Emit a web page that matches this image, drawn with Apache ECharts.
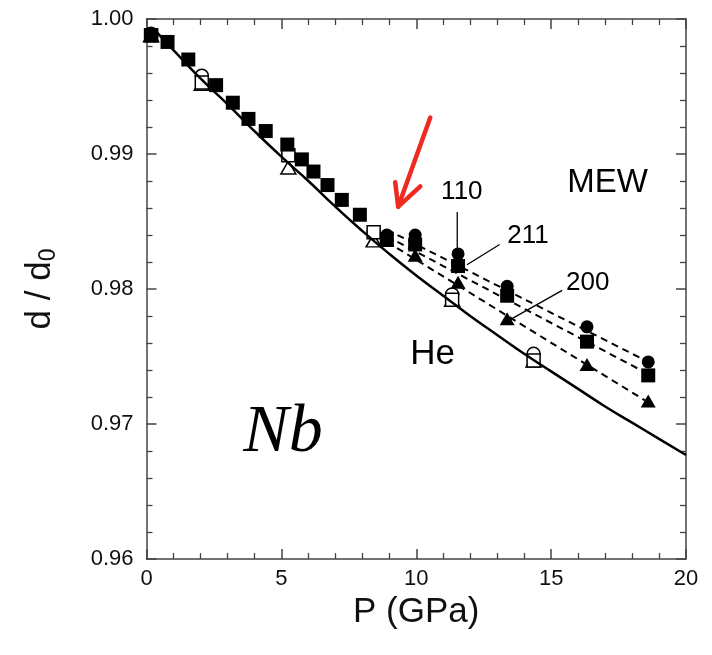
<!DOCTYPE html>
<html>
<head>
<meta charset="utf-8">
<script src="https://cdn.jsdelivr.net/npm/echarts/dist/echarts.min.js"></script>
<style>
  html, body { margin: 0; padding: 0; background: #fff; }
  #chart { width: 712px; height: 655px; }
</style>
</head>
<body>
<div id="chart"></div>
<script>
// Axis ticks
const pTicks = [0, 5, 10, 15, 20];
const dTicks = ['0.96', '0.97', '0.98', '0.99', '1.00'];

// Fit to the He data (solid curve), P in GPa vs d/d0
const heFit = [
  [0.3, 0.9992], [1, 0.9977], [2, 0.9956], [3, 0.9937], [4, 0.9917],
  [5, 0.9898], [6, 0.9880], [7, 0.9861], [8, 0.9843], [9, 0.9826],
  [10, 0.9810], [11, 0.9795], [12, 0.9780], [13, 0.9766], [14, 0.9752],
  [15, 0.9739], [16, 0.9726], [17, 0.9713], [18, 0.9701], [19, 0.9689],
  [20, 0.9677]
];

// He pressure medium (open symbols)
const he110 = [[0.17, 0.9989], [2.05, 0.9958], [5.26, 0.9899], [8.42, 0.9842], [11.33, 0.9796], [14.35, 0.9752]];
const he211 = [[0.17, 0.9988], [2.05, 0.9953], [5.26, 0.9899], [8.42, 0.9842], [11.33, 0.9792], [14.35, 0.9747]];
const he200 = [[0.17, 0.9988], [2.05, 0.9952], [5.26, 0.9890], [8.42, 0.9836], [11.33, 0.9792], [14.35, 0.9747]];

// Methanol-ethanol-water medium (filled symbols)
const mew110 = [[8.91, 0.9840], [9.96, 0.9840], [11.55, 0.9826], [13.37, 0.9802], [16.33, 0.9772], [18.60, 0.9746]];
const mew211 = [
  [0.17, 0.9988], [0.78, 0.9983], [1.55, 0.9970], [2.58, 0.9951], [3.20, 0.9938],
  [3.78, 0.9926], [4.42, 0.9917], [5.22, 0.9907], [5.76, 0.9896], [6.19, 0.9887],
  [6.71, 0.9877], [7.24, 0.9866], [7.91, 0.9855],
  [8.91, 0.9837], [9.96, 0.9833], [11.55, 0.9817], [13.37, 0.9795], [16.33, 0.9761], [18.60, 0.9736]
];
const mew200 = [[8.91, 0.9836], [9.96, 0.9825], [11.55, 0.9805], [13.37, 0.9778], [16.33, 0.9744], [18.60, 0.9717]];

// Linear trends above the transition (dashed)
const trend110 = [[8.91, 0.9844], [18.60, 0.9746]];
const trend211 = [[8.91, 0.9839], [18.60, 0.9737]];
const trend200 = [[8.91, 0.9835], [18.60, 0.9716]];

// Leader lines from the reflection labels to their data
const leader110 = [[11.52, 0.9857], [11.52, 0.9829]];
const leader211 = [[13.09, 0.9833], [11.88, 0.9818]];
const leader200 = [[15.41, 0.9799], [13.37, 0.9776]];

// Arrow marking the onset of non-hydrostatic behaviour
const arrowShaft = [[10.52, 0.9927], [9.33, 0.9861]];
const arrowHead = [[9.22, 0.9879], [9.33, 0.9861], [10.15, 0.9876]];

// Text annotations
const notes = [
  { name: 'MEW', value: [17.09, 0.98785], size: 33, family: 'Liberation Sans', style: 'normal' },
  { name: '110', value: [11.69, 0.98719], size: 26, family: 'Liberation Sans', style: 'normal' },
  { name: '211', value: [14.14, 0.98393], size: 26, family: 'Liberation Sans', style: 'normal' },
  { name: '200', value: [16.36, 0.98044], size: 26, family: 'Liberation Sans', style: 'normal' },
  { name: 'He', value: [10.61, 0.97519], size: 35, family: 'Liberation Sans', style: 'normal' },
  { name: 'Nb', value: [5.06, 0.96933], size: 68, family: 'Liberation Serif', style: 'italic' }
];

const FONT = 'Liberation Sans';
const AXIS_COLOR = '#444';
const TEXT_COLOR = '#111';

function makeX(position, showLabels) {
  return {
    type: 'value', position: position, min: pTicks[0], max: pTicks[pTicks.length - 1],
    interval: pTicks[1] - pTicks[0],
    axisLine: { show: true, onZero: false, lineStyle: { color: AXIS_COLOR, width: 1.5 } },
    axisTick: { show: true, inside: true, length: 10, lineStyle: { color: AXIS_COLOR, width: 1.5 } },
    minorTick: { show: true, splitNumber: 5, length: 6, lineStyle: { color: AXIS_COLOR, width: 1.3 } },
    splitLine: { show: false },
    axisLabel: { show: showLabels, fontSize: 22, fontFamily: FONT, color: TEXT_COLOR, margin: 9 },
    name: showLabels ? 'P (GPa)' : '',
    nameLocation: 'middle', nameGap: 31,
    nameTextStyle: { fontSize: 35, fontFamily: FONT, color: TEXT_COLOR }
  };
}

function makeY(position, showLabels) {
  return {
    type: 'value', position: position, min: Number(dTicks[0]), max: Number(dTicks[dTicks.length - 1]),
    interval: 0.01,
    axisLine: { show: true, onZero: false, lineStyle: { color: AXIS_COLOR, width: 1.5 } },
    axisTick: { show: true, inside: true, length: 10, lineStyle: { color: AXIS_COLOR, width: 1.5 } },
    minorTick: { show: true, splitNumber: 5, length: 6, lineStyle: { color: AXIS_COLOR, width: 1.3 } },
    splitLine: { show: false },
    axisLabel: {
      show: showLabels, fontSize: 22, fontFamily: FONT, color: TEXT_COLOR, margin: 13,
      formatter: v => {
        const s = v.toFixed(2);
        return dTicks.indexOf(s) >= 0 ? s : '';
      }
    },
    name: showLabels ? '{a|d / d}{b|0}' : '',
    nameLocation: 'middle', nameGap: 86, nameRotate: 90,
    nameTextStyle: {
      color: TEXT_COLOR, fontFamily: FONT,
      rich: {
        a: { fontSize: 35, fontFamily: FONT, color: TEXT_COLOR, lineHeight: 40, verticalAlign: 'middle' },
        b: { fontSize: 23, fontFamily: FONT, color: TEXT_COLOR, lineHeight: 20, verticalAlign: 'bottom' }
      }
    }
  };
}

function lineSeries(data, opts) {
  return Object.assign({
    type: 'line', data: data, xAxisIndex: 0, yAxisIndex: 0,
    symbol: 'none', smooth: false, silent: true, animation: false
  }, opts);
}

function openSeries(data, symbol, size) {
  return {
    type: 'scatter', data: data, xAxisIndex: 0, yAxisIndex: 0,
    symbol: symbol, symbolSize: size, animation: false,
    itemStyle: { color: '#fff', borderColor: '#000', borderWidth: 1.5, opacity: 1 }
  };
}

function filledSeries(data, symbol, size) {
  return {
    type: 'scatter', data: data, xAxisIndex: 0, yAxisIndex: 0,
    symbol: symbol, symbolSize: size, animation: false,
    itemStyle: { color: '#000', opacity: 1 }
  };
}

const chart = echarts.init(document.getElementById('chart'), null, { renderer: 'canvas' });

chart.setOption({
  backgroundColor: '#fff',
  animation: false,
  grid: { left: 146.5, right: 26, top: 19, bottom: 96, containLabel: false },
  xAxis: [makeX('bottom', true), makeX('top', false)],
  yAxis: [makeY('left', true), makeY('right', false)],
  series: [
    lineSeries(heFit, { smooth: true, lineStyle: { color: '#000', width: 2.5 } }),
    lineSeries(trend110, { lineStyle: { color: '#000', width: 2, type: [7, 5] } }),
    lineSeries(trend211, { lineStyle: { color: '#000', width: 2, type: [7, 5] } }),
    lineSeries(trend200, { lineStyle: { color: '#000', width: 2, type: [7, 5] } }),
    openSeries(he200, 'triangle', [15, 13]),
    openSeries(he110, 'circle', 13),
    openSeries(he211, 'rect', 13),
    filledSeries(mew200, 'triangle', [15, 13]),
    filledSeries(mew110, 'circle', 13),
    filledSeries(mew211, 'rect', 14),
    lineSeries(leader110, { lineStyle: { color: '#000', width: 1.3 } }),
    lineSeries(leader211, { lineStyle: { color: '#000', width: 1.3 } }),
    lineSeries(leader200, { lineStyle: { color: '#000', width: 1.3 } }),
    lineSeries(arrowShaft, { lineStyle: { color: '#ee2a22', width: 4.5, cap: 'round' } }),
    lineSeries(arrowHead, { lineStyle: { color: '#ee2a22', width: 4.5, cap: 'round', join: 'round' } }),
    {
      type: 'scatter', xAxisIndex: 0, yAxisIndex: 0, symbolSize: 0, silent: true, animation: false,
      itemStyle: { opacity: 1 },
      data: notes.map(n => ({
        name: n.name, value: n.value,
        label: {
          show: true, position: 'inside', formatter: '{b}', color: '#000', opacity: 1,
          fontSize: n.size, fontFamily: n.family, fontStyle: n.style
        }
      }))
    }
  ]
});
</script>
</body>
</html>
